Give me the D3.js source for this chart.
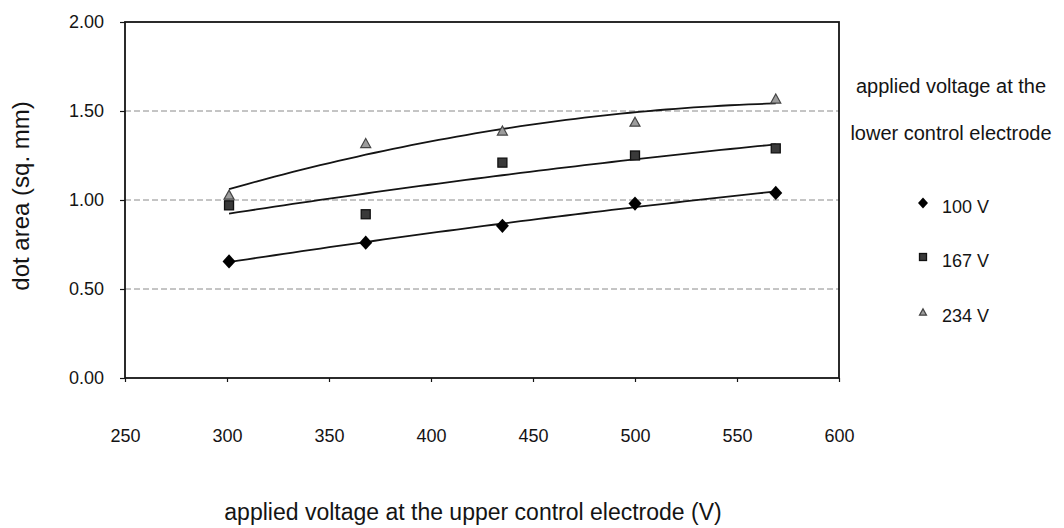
<!DOCTYPE html>
<html>
<head>
<meta charset="utf-8">
<script src="https://cdn.jsdelivr.net/npm/d3@7"></script>
<style>
  html, body { margin: 0; padding: 0; background: #fff; }
  svg { display: block; font-family: "Liberation Sans", Arial, sans-serif; }
</style>
</head>
<body>
<svg id="chart" width="1064" height="528"></svg>
<script>
// ---- data ----
const upperVoltage = [301, 368, 435, 500, 569];           // x values (V)
const series100 = [0.655, 0.76, 0.855, 0.98, 1.04];       // 100 V
const series167 = [0.97, 0.92, 1.21, 1.25, 1.29];         // 167 V
const series234 = [1.03, 1.32, 1.39, 1.44, 1.57];         // 234 V
const seriesNames = ["100 V", "167 V", "234 V"];
const seriesShapes = ["diamond", "square", "triangle"];
const xTicks = [250, 300, 350, 400, 450, 500, 550, 600];
const yTicks = [0, 0.5, 1.0, 1.5, 2.0];
const yGrid = [0.5, 1.0, 1.5];
const xTitle = "applied voltage at the upper control electrode (V)";
const yTitle = "dot area (sq. mm)";
const legendTitle = ["applied voltage at the", "lower control electrode"];

const seriesValues = [series100, series167, series234];

// ---- layout ----
const svg = d3.select("#chart");
const L = 125, R = 839, T = 22, B = 378;
const x = d3.scaleLinear().domain([250, 600]).range([L, R]);
const y = d3.scaleLinear().domain([0, 2]).range([B, T]);
const ink = "#141414";

// gridlines
svg.append("g").selectAll("line").data(yGrid).join("line")
  .attr("x1", L).attr("x2", R)
  .attr("y1", d => y(d)).attr("y2", d => y(d))
  .attr("stroke", "#8a8a8a").attr("stroke-width", 1)
  .attr("stroke-dasharray", "6,3");

// plot border
svg.append("rect").attr("x", L).attr("y", T).attr("width", R - L).attr("height", B - T)
  .attr("fill", "none").attr("stroke", ink).attr("stroke-width", 1.8);

// axes
const yAxis = svg.append("g").attr("transform", `translate(${L},0)`)
  .call(d3.axisLeft(y).tickValues(yTicks).tickFormat(d3.format(".2f")).tickSize(5).tickPadding(16));
const xAxis = svg.append("g").attr("transform", `translate(0,${B})`)
  .call(d3.axisBottom(x).tickValues(xTicks).tickFormat(d3.format("d")).tickSize(4).tickPadding(47));
[yAxis, xAxis].forEach(g => {
  g.select(".domain").remove();
  g.selectAll("line").attr("stroke", ink).attr("stroke-width", 1.2);
  g.selectAll("text").attr("fill", ink).style("font-size", "18px")
    .style("font-family", "'Liberation Sans', Arial, sans-serif");
});

// quadratic least-squares trendline (like a spreadsheet polynomial trendline)
function quadFit(xs, ys) {
  const n = xs.length;
  let s = [0,0,0,0,0], t = [0,0,0];
  for (let i = 0; i < n; i++) {
    const xi = xs[i], yi = ys[i];
    for (let k = 0; k < 5; k++) s[k] += Math.pow(xi, k);
    for (let k = 0; k < 3; k++) t[k] += yi * Math.pow(xi, k);
  }
  const M = [[s[0], s[1], s[2], t[0]], [s[1], s[2], s[3], t[1]], [s[2], s[3], s[4], t[2]]];
  for (let c = 0; c < 3; c++) {
    let p = c;
    for (let r = c + 1; r < 3; r++) if (Math.abs(M[r][c]) > Math.abs(M[p][c])) p = r;
    [M[c], M[p]] = [M[p], M[c]];
    for (let r = 0; r < 3; r++) {
      if (r === c) continue;
      const f = M[r][c] / M[c][c];
      for (let k = c; k < 4; k++) M[r][k] -= f * M[c][k];
    }
  }
  const a = M.map((row, i) => row[3] / row[i]);
  return v => a[0] + a[1] * v + a[2] * v * v;
}

const line = d3.line().x(d => x(d[0])).y(d => y(d[1]));
seriesValues.forEach(vals => {
  const f = quadFit(upperVoltage, vals);
  const x0 = d3.min(upperVoltage), x1 = d3.max(upperVoltage);
  const pts = d3.range(0, 61).map(i => { const v = x0 + (x1 - x0) * i / 60; return [v, f(v)]; });
  svg.append("path").datum(pts).attr("d", line)
    .attr("fill", "none").attr("stroke", ink).attr("stroke-width", 1.8);
});

// markers
function marker(g, shape, cx, cy, s) {
  if (shape === "diamond") {
    const w = s / 2, h = s * 0.55;
    g.append("path").attr("d", `M${cx},${cy - h}L${cx + w},${cy}L${cx},${cy + h}L${cx - w},${cy}Z`)
      .attr("fill", "#000");
  } else if (shape === "square") {
    g.append("rect").attr("x", cx - s / 2).attr("y", cy - s / 2).attr("width", s).attr("height", s)
      .attr("fill", "#3a3a3a").attr("stroke", "#111").attr("stroke-width", 1.3);
  } else {
    const h = s * 0.9;
    g.append("path").attr("d", `M${cx},${cy - h / 2}L${cx + s / 2},${cy + h / 2}L${cx - s / 2},${cy + h / 2}Z`)
      .attr("fill", "#9c9c9c").attr("stroke", "#444").attr("stroke-width", 1.2);
  }
}
const mg = svg.append("g");
const markerSize = [13, 9, 10];
seriesValues.forEach((vals, si) => {
  vals.forEach((v, i) => marker(mg, seriesShapes[si], x(upperVoltage[i]), y(v), markerSize[si]));
});

// axis titles
svg.append("text").attr("x", 473).attr("y", 520).attr("text-anchor", "middle")
  .attr("fill", ink).style("font-size", "23px").text(xTitle);
svg.append("text").attr("transform", "translate(29,196) rotate(-90)").attr("text-anchor", "middle")
  .attr("fill", ink).style("font-size", "24px").text(yTitle);

// legend
const lg = svg.append("g");
lg.selectAll("text.title").data(legendTitle).join("text").attr("class", "title")
  .attr("x", 951).attr("y", (d, i) => 93 + i * 47).attr("text-anchor", "middle")
  .attr("fill", ink).style("font-size", "20px").text(d => d);
const legendY = [208, 262, 317];
const legendMarkerSize = [10, 7, 7];
seriesNames.forEach((name, i) => {
  marker(lg, seriesShapes[i], 923, legendY[i] - 5, legendMarkerSize[i]);
  lg.append("text").attr("x", 942).attr("y", legendY[i] + 5).attr("fill", ink)
    .style("font-size", "18px").text(name);
});
</script>
</body>
</html>
